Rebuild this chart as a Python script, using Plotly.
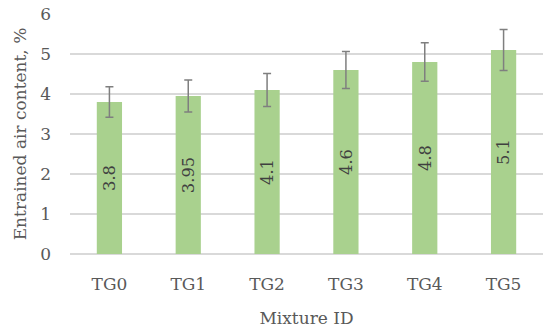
import plotly.graph_objects as go

categories = ["TG0", "TG1", "TG2", "TG3", "TG4", "TG5"]
values = [3.8, 3.95, 4.1, 4.6, 4.8, 5.1]
errors = [0.38, 0.40, 0.41, 0.46, 0.48, 0.51]
labels = ["3.8", "3.95", "4.1", "4.6", "4.8", "5.1"]
y_ticks = [0, 1, 2, 3, 4, 5, 6]

FONT = "DejaVu Serif"

fig = go.Figure(go.Bar(
    x=categories, y=values,
    marker=dict(color="#a9d18e", line=dict(width=0)),
    width=0.32,
    error_y=dict(type="data", array=errors, visible=True, color="#7f7f7f", thickness=1.5, width=4),
    text=labels, textposition="inside", insidetextanchor="middle", textangle=-90,
    textfont=dict(family=FONT, size=17, color="#404040"),
    hoverinfo="skip",
))

fig.update_layout(
    width=550, height=330,
    margin=dict(l=70, r=7, t=14, b=76, autoexpand=False),
    paper_bgcolor="white", plot_bgcolor="white",
    showlegend=False,
    font=dict(family=FONT, size=17, color="#595959"),
    xaxis=dict(
        showgrid=False, showline=False, zeroline=False,
        ticks="", ticklabelstandoff=18,
        title=dict(text="Mixture ID", standoff=19, font=dict(size=17, color="#595959")),
        automargin=False,
    ),
    yaxis=dict(
        range=[0, 6], tickvals=y_ticks, showgrid=True, gridcolor="#d9d9d9", gridwidth=1.3,
        zeroline=True, zerolinecolor="#d9d9d9", zerolinewidth=1.3,
        ticks="", ticklabelstandoff=18,
        title=dict(text="Entrained air content, %", standoff=9, font=dict(size=17, color="#595959")),
        automargin=False,
    ),
)

fig.write_html("out.html", config={"displayModeBar": False, "staticPlot": True})

with open("out.html", "r", encoding="utf-8") as f:
    html = f.read()
html = html.replace("<head>", "<head><style>html,body{margin:0;padding:0;overflow:hidden;}</style>", 1)
with open("out.html", "w", encoding="utf-8") as f:
    f.write(html)
